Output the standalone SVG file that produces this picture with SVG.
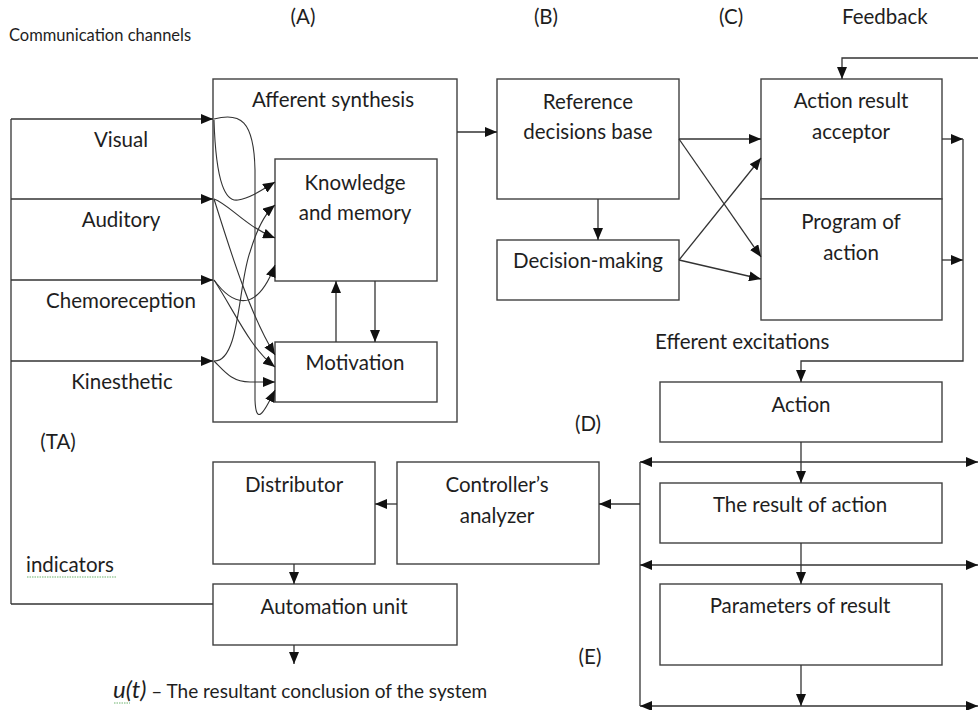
<svg xmlns="http://www.w3.org/2000/svg" width="978" height="710" viewBox="0 0 978 710">
<style>
.box{fill:#fff;stroke:#404040;stroke-width:1.4}
.ln{fill:none;stroke:#333;stroke-width:1.3}
.cv{fill:none;stroke:#333;stroke-width:1.1}
.t{font-family:Lato,"Liberation Sans",sans-serif;font-size:20.5px;fill:#1e1e1e;text-anchor:middle}
.l{text-anchor:start}
.s{font-size:16.5px}
.wav{fill:none;stroke:#6fb36f;stroke-width:1;stroke-dasharray:1.5 1}
</style>
<defs>
<marker id="ar" markerUnits="userSpaceOnUse" markerWidth="12" markerHeight="10" refX="12" refY="5" orient="auto-start-reverse">
<path d="M0,0 L12,5 L0,10 z" fill="#111"/>
</marker>
</defs>
<rect width="978" height="710" fill="#fff"/>

<g id="labels">
<text class="t" x="303" y="24">(A)</text>
<text class="t" x="546" y="24">(B)</text>
<text class="t" x="731" y="24">(C)</text>
<text class="t l" x="842" y="24">Feedback</text>
<text class="t l s" x="9" y="41">Communication channels</text>
<text class="t" x="272" y="149">(SA)</text>
<text class="t l" x="655" y="349">Efferent excitations</text>
<text class="t" x="588" y="431">(D)</text>
<text class="t" x="58" y="449">(TA)</text>
<text class="t l" x="26" y="572">indicators</text>
<path class="wav" d="M27,577 L117,577"/>
<text class="t" x="590" y="664">(E)</text>
<text class="t l" x="113" y="698"><tspan font-style="italic" font-size="24">u(t)</tspan><tspan font-size="19"> – The resultant conclusion of the system</tspan></text>
<path class="wav" d="M114,703 L130,703"/>
</g>

<g id="afferent-synthesis">
<rect class="box" x="213" y="79" width="244" height="343"/>
<text class="t" x="333" y="107">Afferent  synthesis</text>
</g>
<g id="inputs">
<text class="t" x="121" y="147">Visual</text>
<text class="t" x="121" y="227">Auditory</text>
<text class="t" x="121" y="308">Chemoreception</text>
<text class="t" x="122" y="389">Kinesthetic</text>
</g>
<g id="knowledge">
<rect class="box" x="275" y="159" width="162" height="122"/>
<text class="t" x="355" y="190">Knowledge</text>
<text class="t" x="355" y="220">and memory</text>
</g>
<g id="motivation">
<rect class="box" x="275" y="342" width="162" height="60"/>
<text class="t" x="355" y="370">Motivation</text>
</g>
<g id="reference-base">
<rect class="box" x="497" y="79" width="182" height="120"/>
<text class="t" x="588" y="109">Reference</text>
<text class="t" x="588" y="139">decisions base</text>
</g>
<g id="decision-making">
<rect class="box" x="497" y="240" width="182" height="60"/>
<text class="t" x="588" y="268" font-size="18">Decision-making</text>
</g>
<g id="acceptor">
<rect class="box" x="761" y="79" width="181" height="120"/>
<text class="t" x="851" y="108">Action result</text>
<text class="t" x="851" y="139">acceptor</text>
</g>
<g id="program">
<rect class="box" x="761" y="199" width="181" height="121"/>
<text class="t" x="851" y="229">Program of</text>
<text class="t" x="851" y="260">action</text>
</g>
<g id="action">
<rect class="box" x="660" y="382" width="282" height="60"/>
<text class="t" x="801" y="412">Action</text>
</g>
<g id="result">
<rect class="box" x="660" y="483" width="282" height="60"/>
<text class="t" x="800" y="512">The result of action</text>
</g>
<g id="parameters">
<rect class="box" x="660" y="584" width="282" height="81"/>
<text class="t" x="800" y="613">Parameters of result</text>
</g>
<g id="distributor">
<rect class="box" x="213" y="462" width="162" height="102"/>
<text class="t" x="294" y="492">Distributor</text>
</g>
<g id="controller">
<rect class="box" x="397" y="462" width="202" height="102"/>
<text class="t" x="497" y="492">Controller’s</text>
<text class="t" x="497" y="523">analyzer</text>
</g>
<g id="automation">
<rect class="box" x="213" y="584" width="244" height="61"/>
<text class="t" x="334" y="614">Automation unit</text>
</g>

<g id="connectors">
<path class="ln" d="M11,604 L11,119"/>
<path class="ln" d="M11,119 L213,119" marker-end="url(#ar)"/>
<path class="ln" d="M11,199 L213,199" marker-end="url(#ar)"/>
<path class="ln" d="M11,280 L213,280" marker-end="url(#ar)"/>
<path class="ln" d="M11,361 L213,361" marker-end="url(#ar)"/>
<path class="ln" d="M213,604 L11,604"/>
<path class="cv" d="M214,120 C216,185 226,202 238,200 C250,198 262,190 275,182" marker-end="url(#ar)"/>
<path class="cv" d="M214,119 C240,112 254,120 255,170 L255,400 C256,425 263,415 275,390" marker-end="url(#ar)"/>
<path class="cv" d="M214,199 C230,205 245,226 275,238" marker-end="url(#ar)"/>
<path class="cv" d="M214,199 C230,250 250,315 275,355" marker-end="url(#ar)"/>
<path class="cv" d="M214,280 C230,302 255,318 275,265" marker-end="url(#ar)"/>
<path class="cv" d="M214,280 C235,312 250,348 275,367" marker-end="url(#ar)"/>
<path class="cv" d="M214,361 C240,362 238,285 250,252 C256,232 264,214 275,205" marker-end="url(#ar)"/>
<path class="cv" d="M214,361 C225,372 232,382 250,382 L275,382" marker-end="url(#ar)"/>
<path class="ln" d="M336,342 L336,281" marker-end="url(#ar)"/>
<path class="ln" d="M375,281 L375,342" marker-end="url(#ar)"/>
<path class="ln" d="M457,132 L497,132" marker-end="url(#ar)"/>
<path class="ln" d="M598,199 L598,240" marker-end="url(#ar)"/>
<path class="ln" d="M679,139 L761,139" marker-end="url(#ar)"/>
<path class="ln" d="M679,139 L761,257" marker-end="url(#ar)"/>
<path class="ln" d="M679,260 L761,158" marker-end="url(#ar)"/>
<path class="ln" d="M679,260 L761,279" marker-end="url(#ar)"/>
<path class="ln" d="M978,58 L842,58 L842,79" marker-end="url(#ar)"/>
<path class="ln" d="M942,139 L963,139" marker-end="url(#ar)"/>
<path class="ln" d="M942,260 L963,260" marker-end="url(#ar)"/>
<path class="ln" d="M963,139 L963,361 L801,361 L801,382" marker-end="url(#ar)"/>
<path class="ln" d="M801,442 L801,483" marker-end="url(#ar)"/>
<path class="ln" d="M801,543 L801,584" marker-end="url(#ar)"/>
<path class="ln" d="M801,665 L801,706" marker-end="url(#ar)"/>
<path class="ln" d="M640,462 L978,462" marker-start="url(#ar)" marker-end="url(#ar)"/>
<path class="ln" d="M640,565 L978,565" marker-start="url(#ar)" marker-end="url(#ar)"/>
<path class="ln" d="M640,706 L978,706" marker-start="url(#ar)" marker-end="url(#ar)"/>
<path class="ln" d="M640,462 L640,706"/>
<path class="ln" d="M640,504 L599,504" marker-end="url(#ar)"/>
<path class="ln" d="M397,504 L375,504" marker-end="url(#ar)"/>
<path class="ln" d="M294,564 L294,584" marker-end="url(#ar)"/>
<path class="ln" d="M294,645 L294,664" marker-end="url(#ar)"/>
</g>
</svg>
